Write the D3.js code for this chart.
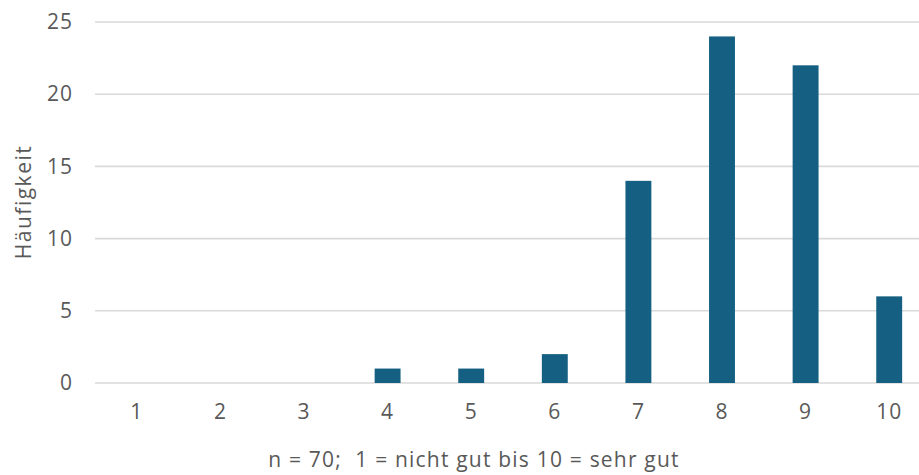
<!DOCTYPE html>
<html><head><meta charset="utf-8">
<script src="https://cdn.jsdelivr.net/npm/d3@7"></script>
<style>html,body{margin:0;padding:0;background:#fff;overflow:hidden}</style>
</head><body>
<svg id="c" width="919" height="475"></svg>
<script>
const categories = ["1","2","3","4","5","6","7","8","9","10"];
const values = [0,0,0,1,1,2,14,24,22,6];
const yTicks = [0,5,10,15,20,25];
const yTitle = "Häufigkeit";
const xTitle = "n = 70;  1 = nicht gut bis 10 = sehr gut";

const svg = d3.select("#c");
const font = "'Open Sans', 'Noto Sans', sans-serif";
const textCol = "#595959";
const x = d3.scaleBand().domain(categories).range([95, 931]).paddingInner(0.69).paddingOuter(0.345);
const y = d3.scaleLinear().domain([0,25]).range([383, 22]);

// gridlines
svg.append("g").selectAll("line").data(yTicks).join("line")
  .attr("x1",95).attr("x2",931).attr("y1",d=>y(d)).attr("y2",d=>y(d))
  .attr("stroke","#d9d9d9").attr("stroke-width",1.6);
const yAxis = d3.axisLeft(y).tickValues(yTicks).tickSize(0).tickPadding(0);
const ya = svg.append("g").attr("transform","translate(73,0)").call(yAxis);
ya.select(".domain").remove();
ya.selectAll("text").attr("fill",textCol).style("font-family",font).style("font-size","21px").style("letter-spacing","1px");

// bars
svg.append("g").selectAll("rect").data(categories).join("rect")
  .attr("x",d=>x(d)).attr("width",x.bandwidth())
  .attr("y",(d,i)=>y(values[i])).attr("height",(d,i)=>y(0)-y(values[i]))
  .attr("fill","#156082");

// x axis
const xa = svg.append("g").attr("transform","translate(0,383)").call(d3.axisBottom(x).tickSize(0).tickPadding(21));
xa.select(".domain").remove();
xa.selectAll("text").attr("fill",textCol).style("font-family",font).style("font-size","21px").style("letter-spacing","1px");

// titles
svg.append("text").attr("transform","translate(31,202) rotate(-90)").attr("text-anchor","middle")
  .attr("fill",textCol).style("font-family",font).style("font-size","21px").style("letter-spacing","1.5px").text(yTitle);
svg.append("text").attr("x",474).attr("y",467).attr("text-anchor","middle")
  .attr("fill",textCol).style("font-family",font).style("font-size","21px").style("letter-spacing","1.2px").style("white-space","pre").text(xTitle);
</script>
</body></html>
